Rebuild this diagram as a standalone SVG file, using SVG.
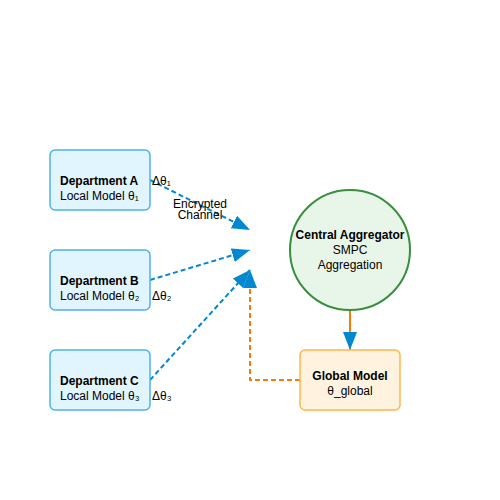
<svg xmlns="http://www.w3.org/2000/svg" width="500" height="500" viewBox="0 0 500 500">
<defs>
<marker id="arr" markerWidth="9" markerHeight="7" refX="9" refY="3.5" orient="auto" markerUnits="strokeWidth">
<polygon points="0 0, 9 3.5, 0 7" fill="#0288d1"/>
</marker>
<style>
text{font-family:"Liberation Sans",Arial,sans-serif;font-size:12px;fill:#000}
.b{font-weight:bold}
.dept{fill:#e1f5fe;stroke:#4fb3e6;stroke-width:1.5}
.flow{stroke:#0288d1;stroke-width:2;stroke-dasharray:5,3;fill:none}
.ret{stroke:#f57c00;stroke-width:2;stroke-dasharray:5,3;fill:none}
</style>
</defs>
<rect width="500" height="500" fill="#fff"/>
<g id="connectors">
<line class="flow" x1="150" y1="180" x2="250" y2="230" marker-end="url(#arr)"/>
<line class="flow" x1="150" y1="280" x2="250" y2="250" marker-end="url(#arr)"/>
<line class="flow" x1="150" y1="380" x2="250" y2="270" marker-end="url(#arr)"/>
<path class="ret" d="M300,380 L250,380 L250,270" marker-end="url(#arr)"/>
<line x1="350" y1="310" x2="350" y2="350" stroke="#f57c00" stroke-width="2" marker-end="url(#arr)"/>
<text x="200" y="208" text-anchor="middle">Encrypted</text>
<text x="200" y="219" text-anchor="middle">Channel</text>
<text x="152" y="185">Δθ₁</text>
<text x="152" y="300">Δθ₂</text>
<text x="152" y="400">Δθ₃</text>
</g>
<g id="deptA">
<rect class="dept" x="50" y="150" width="100" height="60" rx="5"/>
<text class="b" x="60" y="185">Department A</text>
<text x="60" y="200">Local Model θ₁</text>
</g>
<g id="deptB">
<rect class="dept" x="50" y="250" width="100" height="60" rx="5"/>
<text class="b" x="60" y="285">Department B</text>
<text x="60" y="300">Local Model θ₂</text>
</g>
<g id="deptC">
<rect class="dept" x="50" y="350" width="100" height="60" rx="5"/>
<text class="b" x="60" y="385">Department C</text>
<text x="60" y="400">Local Model θ₃</text>
</g>
<g id="aggregator">
<circle cx="350" cy="250" r="60" fill="#e8f5e9" stroke="#388e3c" stroke-width="2"/>
<text class="b" x="350" y="239" text-anchor="middle">Central Aggregator</text>
<text x="350" y="254" text-anchor="middle">SMPC</text>
<text x="350" y="269" text-anchor="middle">Aggregation</text>
</g>
<g id="global">
<rect x="300" y="350" width="100" height="60" rx="5" fill="#fff3e0" stroke="#ffb74d" stroke-width="1.5"/>
<text class="b" x="350" y="380" text-anchor="middle">Global Model</text>
<text x="350" y="395" text-anchor="middle">θ_global</text>
</g>
</svg>
